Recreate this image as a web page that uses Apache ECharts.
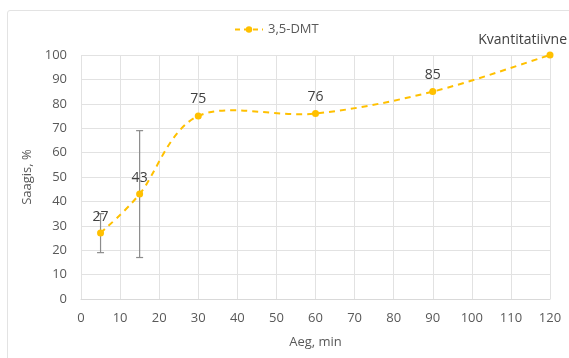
<!DOCTYPE html>
<html>
<head>
<meta charset="utf-8">
<script src="https://cdn.jsdelivr.net/npm/echarts@6/dist/echarts.min.js"></script>
<style>
  html, body { margin: 0; padding: 0; background: #fff; }
  #frame { position: absolute; left: 7px; top: 10px; width: 600px; height: 400px;
           border: 1.5px solid #e3e3e3; border-radius: 3px; box-sizing: border-box; }
  #chart { position: absolute; left: 0; top: 0; width: 569px; height: 358px; }
</style>
</head>
<body>
<div id="frame"></div>
<div id="chart"></div>
<script>
// Reaction time (min) and yield (%) for 3,5-DMT
const times = [5, 15, 30, 60, 90, 120];
const yields = [27, 43, 75, 76, 85, 100];
const errors = [8, 26, 0, 0, 0, 0];
const pointLabels = ['27', '43', '75', '76', '85', 'Kvantitatiivne'];
const seriesName = '3,5-DMT';

const gold = '#FFC000';
const textGray = '#595959';
const gridGray = '#e2e2e2';
const font = 'Open Sans';

const lineData = times.map((t, i) => ({
  value: [t, yields[i]],
  label: i === times.length - 1 ? { align: 'right', offset: [17, 2] } : undefined
}));
const errData = times.map((t, i) => [t, yields[i] - errors[i], yields[i] + errors[i]])
  .filter((d, i) => errors[i] > 0);

// Smoothed path through the points (cardinal spline, tension 1/6 per side)
function smoothPath(api) {
  const pts = times.map((t, i) => api.coord([t, yields[i]]));
  const n = pts.length;
  let d = 'M' + pts[0][0] + ',' + pts[0][1];
  for (let i = 0; i < n - 1; i++) {
    const p0 = pts[Math.max(i - 1, 0)];
    const p1 = pts[i];
    const p2 = pts[i + 1];
    const p3 = pts[Math.min(i + 2, n - 1)];
    const c1 = [p1[0] + (p2[0] - p0[0]) / 6, p1[1] + (p2[1] - p0[1]) / 6];
    const c2 = [p2[0] - (p3[0] - p1[0]) / 6, p2[1] - (p3[1] - p1[1]) / 6];
    d += ' C' + c1[0] + ',' + c1[1] + ' ' + c2[0] + ',' + c2[1] + ' ' + p2[0] + ',' + p2[1];
  }
  return d;
}

const chart = echarts.init(document.getElementById('chart'), null, { renderer: 'canvas' });
chart.setOption({
  animation: false,
  textStyle: { fontFamily: font },
  legend: {
    data: [seriesName],
    top: 18,
    left: 229,
    itemWidth: 28,
    itemHeight: 8,
    itemGap: 4,
    lineStyle: { color: gold, width: 2, type: [5, 4], opacity: 1 },
    textStyle: { color: textGray, fontSize: 13, fontFamily: font }
  },
  grid: { left: 81, right: 19, top: 55, bottom: 59 },
  xAxis: {
    type: 'value', min: 0, max: 120, interval: 10,
    name: 'Aeg, min', nameLocation: 'middle', nameGap: 37,
    nameTextStyle: { color: textGray, fontSize: 13 },
    axisLine: { show: true, lineStyle: { color: '#d9d9d9' } },
    axisTick: { show: false },
    axisLabel: { color: textGray, fontSize: 13, margin: 13 },
    splitLine: { show: true, lineStyle: { color: gridGray } }
  },
  yAxis: {
    type: 'value', min: 0, max: 100, interval: 10,
    name: 'Saagis, %', nameLocation: 'middle', nameGap: 37,
    nameTextStyle: { color: textGray, fontSize: 13 },
    axisLine: { show: false },
    axisTick: { show: false },
    axisLabel: { color: textGray, fontSize: 13, margin: 14 },
    splitLine: { show: true, lineStyle: { color: gridGray } }
  },
  series: [
    {
      type: 'custom',
      name: 'curve',
      data: [[times[0], yields[0]]],
      renderItem: (params, api) => ({
        type: 'path',
        shape: { pathData: smoothPath(api) },
        style: { fill: null, stroke: gold, lineWidth: 2, lineDash: [6, 5] }
      }),
      silent: true,
      z: 2
    },
    {
      name: seriesName,
      type: 'line',
      data: lineData,
      symbol: 'circle',
      symbolSize: 7,
      itemStyle: { color: gold },
      lineStyle: { opacity: 0 },
      label: {
        show: true, position: 'top', distance: 6,
        color: '#404040', fontSize: 14, fontFamily: font,
        formatter: p => pointLabels[p.dataIndex]
      },
      z: 4
    },
    {
      type: 'custom',
      name: 'err',
      data: errData,
      renderItem: (params, api) => {
        const x = api.value(0);
        const lo = api.coord([x, api.value(1)]);
        const hi = api.coord([x, api.value(2)]);
        const cap = 3.5;
        const style = { stroke: '#8c8c8c', lineWidth: 1.2 };
        return {
          type: 'group',
          children: [
            { type: 'line', shape: { x1: lo[0], y1: lo[1], x2: hi[0], y2: hi[1] }, style },
            { type: 'line', shape: { x1: lo[0] - cap, y1: lo[1], x2: lo[0] + cap, y2: lo[1] }, style },
            { type: 'line', shape: { x1: hi[0] - cap, y1: hi[1], x2: hi[0] + cap, y2: hi[1] }, style }
          ]
        };
      },
      z: 3
    }
  ]
});
</script>
</body>
</html>
